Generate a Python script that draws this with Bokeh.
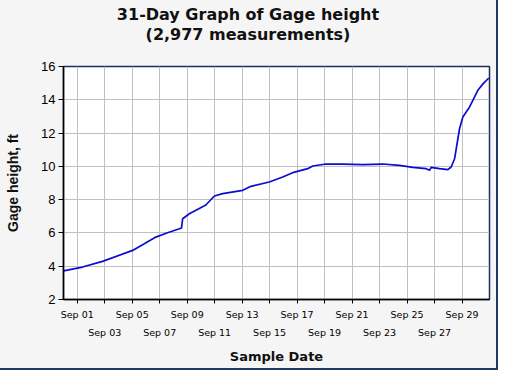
import pandas as pd
from bokeh.plotting import figure
from bokeh.layouts import column
from bokeh.models import (FixedTicker, DatetimeAxis, DatetimeTickFormatter, Range1d,
                          Div, ColumnDataSource, Grid)
from bokeh.embed import file_html
from bokeh.resources import INLINE

# ---- data ----
start_date = "2023-08-31"
end_date = "2023-10-01"
day_offsets = [0.00, 1.38, 2.84, 5.03, 5.88, 6.72, 7.57, 8.43, 8.59, 8.67, 9.16, 9.40,
               10.36, 10.98, 11.58, 13.04, 13.64, 14.98, 15.95, 16.68, 17.77, 18.14,
               19.10, 20.32, 21.78, 23.23, 24.45, 25.42, 26.39, 26.64, 26.75, 27.36,
               27.97, 28.21, 28.46, 28.62, 28.82, 29.06, 29.55, 29.79, 30.15, 30.54, 30.95]
gage_ft = [3.72, 3.95, 4.29, 4.95, 5.35, 5.75, 6.01, 6.25, 6.30, 6.85, 7.15, 7.26,
           7.68, 8.22, 8.36, 8.56, 8.80, 9.06, 9.36, 9.62, 9.86, 10.02,
           10.14, 10.14, 10.10, 10.14, 10.06, 9.94, 9.86, 9.76, 9.94, 9.86,
           9.80, 9.96, 10.46, 11.26, 12.26, 12.97, 13.57, 13.97, 14.57, 14.97, 15.31]
tick_dates_row1 = ["2023-09-01", "2023-09-05", "2023-09-09", "2023-09-13",
                   "2023-09-17", "2023-09-21", "2023-09-25", "2023-09-29"]
tick_dates_row2 = ["2023-09-03", "2023-09-07", "2023-09-11", "2023-09-15",
                   "2023-09-19", "2023-09-23", "2023-09-27"]
y_ticks = [2, 4, 6, 8, 10, 12, 14, 16]
title_line1 = "31-Day Graph of Gage height"
title_line2 = "(2,977 measurements)"
x_label = "Sample Date"
y_label = "Gage height, ft"

def ms(ts):
    return pd.Timestamp(ts).value / 1e6

t0 = pd.Timestamp(start_date)
times = [t0 + pd.Timedelta(days=d) for d in day_offsets]
src = ColumnDataSource(dict(t=times, v=gage_ft))

BG = "#f5f5f5"
TITLE_H = 58
W = 496

title_div = Div(
    text=(f"<div style=\"width:{W}px;text-align:center;font-family:'DejaVu Sans';"
          f"font-weight:bold;font-size:16px;line-height:20px;padding-top:5px;"
          f"color:#111111;\">{title_line1}<br>{title_line2}</div>"),
    width=W, height=TITLE_H, margin=0,
    styles={"background-color": BG, "width": f"{W}px"})

p = figure(width=W, height=368 - TITLE_H, output_backend="svg", toolbar_location=None,
           x_axis_type=None, title=None, margin=0,
           x_range=Range1d(ms(start_date), ms(end_date)), y_range=Range1d(2, 16),
           min_border_left=63, min_border_right=7, min_border_top=66 - TITLE_H,
           min_border_bottom=69,
           border_fill_color=BG, background_fill_color="white")
p.outline_line_color = "#1c2f5e"
p.outline_line_width = 1.5

row1_ticker = FixedTicker(ticks=[ms(d) for d in tick_dates_row1],
                          minor_ticks=[ms(d) for d in tick_dates_row2])
p.add_layout(Grid(dimension=0, ticker=row1_ticker, grid_line_color="#c0c0c0",
                  minor_grid_line_color="#c0c0c0"))
p.ygrid.grid_line_color = "#c0c0c0"

p.line("t", "v", source=src, line_color="#0c0cd0", line_width=1.7)

fmt = DatetimeTickFormatter(days="%b %d", months="%b %d", hours="%b %d",
                            years="%b %d", minutes="%b %d")

ax1 = DatetimeAxis(ticker=row1_ticker, formatter=fmt)
ax1.axis_line_color = "black"
ax1.axis_line_width = 1.5
ax1.major_tick_out = 4
ax1.major_tick_in = 0
ax1.minor_tick_out = 4
ax1.minor_tick_in = 0
ax1.major_tick_line_color = "black"
ax1.minor_tick_line_color = "black"
ax1.major_label_standoff = 5
ax1.major_label_text_font = "DejaVu Sans"
ax1.major_label_text_font_size = "9.5px"
ax1.major_label_text_color = "black"
p.add_layout(ax1, "below")

ax2 = DatetimeAxis(ticker=FixedTicker(ticks=[ms(d) for d in tick_dates_row2]),
                   formatter=fmt)
ax2.axis_line_color = None
ax2.major_tick_line_color = None
ax2.minor_tick_line_color = None
ax2.major_tick_out = 0
ax2.major_tick_in = 0
ax2.major_label_standoff = 4
ax2.major_label_text_font = "DejaVu Sans"
ax2.major_label_text_font_size = "9.5px"
ax2.major_label_text_color = "black"
ax2.axis_label = x_label
ax2.axis_label_text_font = "DejaVu Sans"
ax2.axis_label_text_font_style = "bold"
ax2.axis_label_text_font_size = "13px"
ax2.axis_label_text_color = "#111111"
ax2.axis_label_standoff = 8
p.add_layout(ax2, "below")

p.yaxis.ticker = FixedTicker(ticks=y_ticks)
p.yaxis.axis_line_color = "black"
p.yaxis.axis_line_width = 1.5
p.yaxis.major_tick_out = 5
p.yaxis.major_tick_in = 0
p.yaxis.minor_tick_line_color = None
p.yaxis.major_label_standoff = 3
p.yaxis.major_label_text_font = "Liberation Sans"
p.yaxis.major_label_text_font_size = "13px"
p.yaxis.major_label_text_color = "black"
p.yaxis.axis_label = y_label
p.yaxis.axis_label_text_font = "Liberation Sans"
p.yaxis.axis_label_text_font_style = "bold"
p.yaxis.axis_label_text_font_size = "14px"
p.yaxis.axis_label_text_color = "#111111"
p.yaxis.axis_label_standoff = 17

layout = column(title_div, p, spacing=0, margin=0,
                styles={"box-shadow": "0 0 0 2px #1f3864", "background-color": BG})

open("out.html", "w").write(file_html(layout, INLINE))
